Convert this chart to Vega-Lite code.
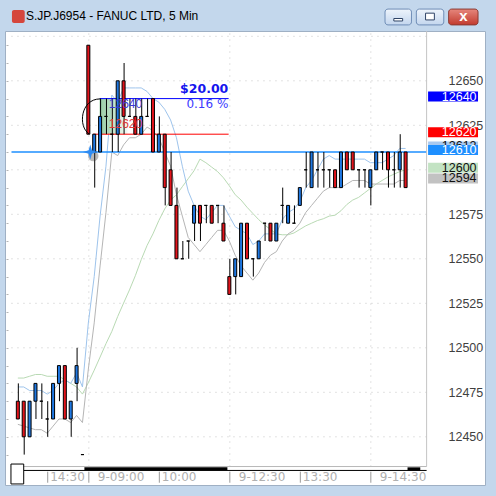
{
  "$schema": "https://vega.github.io/schema/vega-lite/v6.json",
  "width": 480,
  "height": 454,
  "autosize": {"type": "none"},
  "padding": {"left": 5, "top": 31, "right": 11, "bottom": 11},
  "background": "#c3d7ec",
  "view": {"fill": "#ffffff", "stroke": "#9fb0c4", "strokeWidth": 1},
  "title": {
    "text": "S.JP.J6954 - FANUC LTD, 5 Min",
    "anchor": "start",
    "frame": "group",
    "font": "Liberation Sans",
    "fontSize": 12,
    "fontWeight": "normal",
    "color": "#000000",
    "baseline": "middle",
    "dx": 21,
    "dy": 19,
    "offset": 0
  },
  "resolve": {"axis": {"y": "independent"}},
  "datasets": {
    "bars": [
      {"bar": 0, "time": "14:05", "open": 12470, "high": 12480, "low": 12460, "close": 12460, "mah": 12478, "mal": 12457, "ma20": 12483},
      {"bar": 1, "time": "14:10", "open": 12470, "high": 12470, "low": 12440, "close": 12450, "mah": 12478, "mal": 12456, "ma20": 12483},
      {"bar": 2, "time": "14:15", "open": 12450, "high": 12470, "low": 12450, "close": 12470, "mah": 12476, "mal": 12455, "ma20": 12484},
      {"bar": 3, "time": "14:20", "open": 12470, "high": 12480, "low": 12460, "close": 12480, "mah": 12476, "mal": 12454, "ma20": 12485},
      {"bar": 4, "time": "14:25", "open": 12470, "high": 12480, "low": 12460, "close": 12470, "mah": 12476, "mal": 12454, "ma20": 12485},
      {"bar": 5, "time": "14:30", "open": 12460, "high": 12470, "low": 12450, "close": 12460, "mah": 12474, "mal": 12452, "ma20": 12484},
      {"bar": 6, "time": "14:35", "open": 12460, "high": 12480, "low": 12460, "close": 12480, "mah": 12476, "mal": 12456, "ma20": 12484},
      {"bar": 7, "time": "14:40", "open": 12480, "high": 12490, "low": 12470, "close": 12490, "mah": 12480, "mal": 12460, "ma20": 12484},
      {"bar": 8, "time": "14:45", "open": 12490, "high": 12490, "low": 12460, "close": 12460, "mah": 12482, "mal": 12460, "ma20": 12482},
      {"bar": 9, "time": "14:50", "open": 12460, "high": 12470, "low": 12450, "close": 12470, "mah": 12480, "mal": 12458, "ma20": 12480},
      {"bar": 10, "time": "14:55", "open": 12480, "high": 12500, "low": 12470, "close": 12490, "mah": 12486, "mal": 12462, "ma20": 12478},
      {"bar": 11, "time": "15:00", "open": 12440, "high": 12440, "low": 12440, "close": 12440, "mah": 12478, "mal": 12458, "ma20": 12474},
      {"bar": 12, "time": "09:00", "open": 12670, "high": 12670, "low": 12620, "close": 12620, "mah": 12514, "mal": 12488, "ma20": 12480.4},
      {"bar": 13, "time": "09:05", "open": 12610, "high": 12620, "low": 12590, "close": 12620, "mah": 12540, "mal": 12514, "ma20": 12487.4},
      {"bar": 14, "time": "09:10", "open": 12610, "high": 12640, "low": 12610, "close": 12630, "mah": 12574, "mal": 12546, "ma20": 12494.8},
      {"bar": 15, "time": "09:15", "open": 12630, "high": 12640, "low": 12620, "close": 12630, "mah": 12602, "mal": 12576, "ma20": 12502.3},
      {"bar": 16, "time": "09:20", "open": 12620, "high": 12640, "low": 12610, "close": 12620, "mah": 12642, "mal": 12610, "ma20": 12509.2},
      {"bar": 17, "time": "09:25", "open": 12620, "high": 12650, "low": 12610, "close": 12650, "mah": 12638, "mal": 12608, "ma20": 12517.6},
      {"bar": 18, "time": "09:30", "open": 12650, "high": 12660, "low": 12620, "close": 12630, "mah": 12646, "mal": 12614, "ma20": 12525.1},
      {"bar": 19, "time": "09:35", "open": 12630, "high": 12640, "low": 12630, "close": 12630, "mah": 12646, "mal": 12618, "ma20": 12532.5},
      {"bar": 20, "time": "09:40", "open": 12630, "high": 12640, "low": 12620, "close": 12620, "mah": 12646, "mal": 12618, "ma20": 12540.5},
      {"bar": 21, "time": "09:45", "open": 12620, "high": 12640, "low": 12620, "close": 12630, "mah": 12646, "mal": 12620, "ma20": 12549.5},
      {"bar": 22, "time": "09:50", "open": 12630, "high": 12640, "low": 12630, "close": 12630, "mah": 12644, "mal": 12624, "ma20": 12557.5},
      {"bar": 23, "time": "09:55", "open": 12640, "high": 12640, "low": 12610, "close": 12610, "mah": 12640, "mal": 12622, "ma20": 12564},
      {"bar": 24, "time": "10:00", "open": 12610, "high": 12630, "low": 12610, "close": 12620, "mah": 12638, "mal": 12618, "ma20": 12571.5},
      {"bar": 25, "time": "10:05", "open": 12620, "high": 12620, "low": 12580, "close": 12590, "mah": 12634, "mal": 12610, "ma20": 12578},
      {"bar": 26, "time": "10:10", "open": 12600, "high": 12610, "low": 12580, "close": 12580, "mah": 12628, "mal": 12602, "ma20": 12583},
      {"bar": 27, "time": "10:15", "open": 12580, "high": 12590, "low": 12550, "close": 12550, "mah": 12618, "mal": 12586, "ma20": 12586},
      {"bar": 28, "time": "10:20", "open": 12550, "high": 12560, "low": 12550, "close": 12550, "mah": 12602, "mal": 12574, "ma20": 12590.5},
      {"bar": 29, "time": "10:25", "open": 12560, "high": 12560, "low": 12550, "close": 12560, "mah": 12588, "mal": 12562, "ma20": 12595},
      {"bar": 30, "time": "10:30", "open": 12570, "high": 12580, "low": 12560, "close": 12580, "mah": 12580, "mal": 12558, "ma20": 12599.5},
      {"bar": 31, "time": "10:35", "open": 12580, "high": 12580, "low": 12560, "close": 12570, "mah": 12574, "mal": 12554, "ma20": 12606},
      {"bar": 32, "time": "10:40", "open": 12580, "high": 12580, "low": 12570, "close": 12580, "mah": 12572, "mal": 12558, "ma20": 12604},
      {"bar": 33, "time": "10:45", "open": 12580, "high": 12580, "low": 12570, "close": 12570, "mah": 12576, "mal": 12562, "ma20": 12601.5},
      {"bar": 34, "time": "10:50", "open": 12580, "high": 12580, "low": 12570, "close": 12580, "mah": 12580, "mal": 12566, "ma20": 12599},
      {"bar": 35, "time": "10:55", "open": 12570, "high": 12580, "low": 12560, "close": 12560, "mah": 12580, "mal": 12566, "ma20": 12595.5},
      {"bar": 36, "time": "12:30", "open": 12540, "high": 12550, "low": 12530, "close": 12530, "mah": 12574, "mal": 12560, "ma20": 12591},
      {"bar": 37, "time": "12:35", "open": 12540, "high": 12550, "low": 12530, "close": 12550, "mah": 12568, "mal": 12552, "ma20": 12586},
      {"bar": 38, "time": "12:40", "open": 12540, "high": 12570, "low": 12540, "close": 12570, "mah": 12566, "mal": 12546, "ma20": 12583},
      {"bar": 39, "time": "12:45", "open": 12570, "high": 12570, "low": 12550, "close": 12550, "mah": 12564, "mal": 12542, "ma20": 12579},
      {"bar": 40, "time": "12:50", "open": 12550, "high": 12550, "low": 12540, "close": 12550, "mah": 12558, "mal": 12538, "ma20": 12575.5},
      {"bar": 41, "time": "12:55", "open": 12550, "high": 12560, "low": 12550, "close": 12560, "mah": 12560, "mal": 12542, "ma20": 12572},
      {"bar": 42, "time": "13:00", "open": 12570, "high": 12570, "low": 12560, "close": 12570, "mah": 12564, "mal": 12548, "ma20": 12569},
      {"bar": 43, "time": "13:05", "open": 12570, "high": 12570, "low": 12560, "close": 12560, "mah": 12564, "mal": 12552, "ma20": 12566.5},
      {"bar": 44, "time": "13:10", "open": 12560, "high": 12570, "low": 12560, "close": 12570, "mah": 12564, "mal": 12554, "ma20": 12564},
      {"bar": 45, "time": "13:15", "open": 12580, "high": 12590, "low": 12570, "close": 12580, "mah": 12572, "mal": 12560, "ma20": 12563.5},
      {"bar": 46, "time": "13:20", "open": 12570, "high": 12580, "low": 12570, "close": 12580, "mah": 12576, "mal": 12564, "ma20": 12563.5},
      {"bar": 47, "time": "13:25", "open": 12570, "high": 12580, "low": 12570, "close": 12570, "mah": 12578, "mal": 12566, "ma20": 12564.5},
      {"bar": 48, "time": "13:30", "open": 12580, "high": 12590, "low": 12580, "close": 12590, "mah": 12582, "mal": 12570, "ma20": 12566.5},
      {"bar": 49, "time": "13:35", "open": 12600, "high": 12610, "low": 12590, "close": 12600, "mah": 12590, "mal": 12576, "ma20": 12568.5},
      {"bar": 50, "time": "13:40", "open": 12590, "high": 12610, "low": 12590, "close": 12610, "mah": 12594, "mal": 12580, "ma20": 12570},
      {"bar": 51, "time": "13:45", "open": 12600, "high": 12610, "low": 12590, "close": 12600, "mah": 12600, "mal": 12584, "ma20": 12571.5},
      {"bar": 52, "time": "13:50", "open": 12600, "high": 12610, "low": 12590, "close": 12600, "mah": 12606, "mal": 12588, "ma20": 12572.5},
      {"bar": 53, "time": "13:55", "open": 12600, "high": 12600, "low": 12590, "close": 12600, "mah": 12608, "mal": 12590, "ma20": 12574},
      {"bar": 54, "time": "14:00", "open": 12600, "high": 12600, "low": 12590, "close": 12590, "mah": 12606, "mal": 12590, "ma20": 12574.5},
      {"bar": 55, "time": "14:05", "open": 12590, "high": 12610, "low": 12590, "close": 12610, "mah": 12606, "mal": 12590, "ma20": 12577},
      {"bar": 56, "time": "14:10", "open": 12610, "high": 12610, "low": 12600, "close": 12600, "mah": 12606, "mal": 12592, "ma20": 12580.5},
      {"bar": 57, "time": "14:15", "open": 12610, "high": 12610, "low": 12600, "close": 12600, "mah": 12606, "mal": 12594, "ma20": 12583},
      {"bar": 58, "time": "14:20", "open": 12600, "high": 12600, "low": 12590, "close": 12600, "mah": 12606, "mal": 12594, "ma20": 12584.5},
      {"bar": 59, "time": "14:25", "open": 12600, "high": 12600, "low": 12590, "close": 12600, "mah": 12606, "mal": 12594, "ma20": 12587},
      {"bar": 60, "time": "14:30", "open": 12590, "high": 12600, "low": 12580, "close": 12600, "mah": 12604, "mal": 12592, "ma20": 12589.5},
      {"bar": 61, "time": "14:35", "open": 12600, "high": 12610, "low": 12600, "close": 12610, "mah": 12604, "mal": 12592, "ma20": 12592},
      {"bar": 62, "time": "14:40", "open": 12610, "high": 12610, "low": 12600, "close": 12610, "mah": 12604, "mal": 12592, "ma20": 12594},
      {"bar": 63, "time": "14:45", "open": 12610, "high": 12610, "low": 12590, "close": 12600, "mah": 12606, "mal": 12592, "ma20": 12596},
      {"bar": 64, "time": "14:50", "open": 12600, "high": 12610, "low": 12590, "close": 12600, "mah": 12608, "mal": 12592, "ma20": 12597.5},
      {"bar": 65, "time": "14:55", "open": 12600, "high": 12620, "low": 12590, "close": 12610, "mah": 12612, "mal": 12594, "ma20": 12599},
      {"bar": 66, "time": "15:00", "open": 12610, "high": 12610, "low": 12590, "close": 12590, "mah": 12612, "mal": 12594, "ma20": 12600}
    ],
    "grid": [
      {"level": 12450}, {"level": 12475}, {"level": 12500}, {"level": 12525}, {"level": 12550},
      {"level": 12575}, {"level": 12600}, {"level": 12625}, {"level": 12650}, {"level": 12675}
    ],
    "timeTicks": [
      {"bar": 5, "label": "14:30"},
      {"bar": 12, "label": "9-09:00"},
      {"bar": 24, "label": "10:00"},
      {"bar": 36, "label": "9-12:30"},
      {"bar": 48, "label": "13:30"},
      {"bar": 60, "label": "9-14:30"}
    ],
    "levels": [
      {"name": "upper", "price": 12640},
      {"name": "lower", "price": 12620},
      {"name": "alert", "price": 12610}
    ],
    "tool": [
      {"change": 20, "percent": "0.16 %"}
    ]
  },
  "layer": [
    {
      "data": {"name": "grid"},
      "mark": {"type": "rule", "stroke": "#c6c6c6", "strokeDash": [1, 5]},
      "encoding": {
        "x": {"datum": -1.08, "type": "quantitative", "scale": {"domain": [-1.33333, 78.66667], "nice": false, "zero": false}, "axis": null},
        "x2": {"datum": 69.58},
        "y": {
          "field": "level", "type": "quantitative",
          "scale": {"domain": [12422.92, 12677.98], "nice": false, "zero": false},
          "axis": {
            "orient": "right", "offset": -54, "format": "d",
            "values": [12450, 12475, 12500, 12525, 12550, 12575, 12625, 12650],
            "domain": false, "ticks": false, "grid": false, "title": null,
            "labelAlign": "left", "labelPadding": 17, "labelBaseline": "middle",
            "labelFont": "Liberation Sans", "labelFontSize": 12.5, "labelColor": "#3f3f3f",
            "labelOverlap": false
          }
        }
      }
    },
    {
      "data": {"name": "timeTicks"},
      "transform": [{"filter": "length(datum.label) > 5"}],
      "mark": {"type": "rule", "stroke": "#c6c6c6", "strokeDash": [1, 5], "xOffset": 0.5},
      "encoding": {
        "x": {"field": "bar", "type": "quantitative", "axis": null},
        "y": {"datum": 12433.3, "type": "quantitative", "axis": null},
        "y2": {"datum": 12677}
      }
    },
    {
      "data": {"name": "bars"},
      "mark": {"type": "line", "color": "#b9dab4", "strokeWidth": 1},
      "encoding": {
        "x": {"field": "bar", "type": "quantitative", "axis": null},
        "y": {
          "field": "ma20", "type": "quantitative",
          "axis": {
            "orient": "left", "offset": -3,
            "values": [12440, 12450, 12460, 12470, 12480, 12490, 12500, 12510, 12520, 12530, 12540, 12550, 12560, 12570, 12580, 12590, 12600, 12610, 12620, 12630, 12640, 12650, 12660, 12670],
            "labels": false, "domain": false, "grid": false, "title": null,
            "ticks": true, "tickSize": 2, "tickColor": "#b4b4b4"
          }
        }
      }
    },
    {
      "data": {"name": "bars"},
      "mark": {"type": "line", "color": "#b5b5b5", "strokeWidth": 1},
      "encoding": {
        "x": {"field": "bar", "type": "quantitative", "axis": null},
        "y": {"field": "mal", "type": "quantitative", "axis": null}
      }
    },
    {
      "data": {"name": "bars"},
      "mark": {"type": "line", "color": "#9ec4ec", "strokeWidth": 1},
      "encoding": {
        "x": {"field": "bar", "type": "quantitative", "axis": null},
        "y": {"field": "mah", "type": "quantitative", "axis": null}
      }
    },
    {
      "data": {"values": [{}]},
      "mark": {
        "type": "rect", "opacity": 0.85,
        "fill": {
          "gradient": "linear", "x1": 0, "y1": 0, "x2": 1, "y2": 0,
          "stops": [
            {"offset": 0, "color": "#86c495"},
            {"offset": 0.55, "color": "#bde0c4"},
            {"offset": 1, "color": "#f4faf5"}
          ]
        }
      },
      "encoding": {
        "x": {"datum": 13.92, "type": "quantitative", "axis": null},
        "x2": {"datum": 18.7},
        "y": {"datum": 12640, "type": "quantitative", "axis": null},
        "y2": {"datum": 12620}
      }
    },
    {
      "data": {"name": "levels"},
      "transform": [{"filter": "datum.name == 'upper'"}],
      "mark": {"type": "rule", "stroke": "#0000ff", "strokeWidth": 1},
      "encoding": {
        "x": {"datum": 13.95, "type": "quantitative", "axis": null},
        "x2": {"datum": 35.88},
        "y": {"field": "price", "type": "quantitative", "axis": null}
      }
    },
    {
      "data": {"name": "levels"},
      "transform": [{"filter": "datum.name == 'lower'"}],
      "mark": {"type": "rule", "stroke": "#ff0000", "strokeWidth": 1},
      "encoding": {
        "x": {"datum": 12.83, "type": "quantitative", "axis": null},
        "x2": {"datum": 35.88},
        "y": {"field": "price", "type": "quantitative", "axis": null}
      }
    },
    {
      "data": {"name": "levels"},
      "transform": [{"filter": "datum.name == 'alert'"}],
      "mark": {"type": "rule", "stroke": "#1e8fff", "strokeWidth": 1.3},
      "encoding": {
        "x": {"datum": -1.08, "type": "quantitative", "axis": null},
        "x2": {"datum": 69.58},
        "y": {"field": "price", "type": "quantitative", "axis": null}
      }
    },
    {
      "data": {"name": "bars"},
      "mark": {"type": "rule", "color": "#000000", "strokeWidth": 1, "xOffset": 0.5},
      "encoding": {
        "x": {"field": "bar", "type": "quantitative", "axis": null},
        "y": {"field": "low", "type": "quantitative", "axis": null},
        "y2": {"field": "high"}
      }
    },
    {
      "data": {"name": "bars"},
      "mark": {"type": "bar", "width": 3, "stroke": "#000000", "strokeWidth": 1},
      "encoding": {
        "x": {"field": "bar", "type": "quantitative", "scale": {"domain": [-1.33333, 78.66667], "nice": false, "zero": false}, "axis": null},
        "y": {"field": "open", "type": "quantitative", "scale": {"domain": [12422.92, 12677.98], "nice": false, "zero": false}, "axis": null},
        "y2": {"field": "close"},
        "fill": {"condition": {"test": "datum.close > datum.open", "value": "#1f78e2"}, "value": "#e3141c"}
      }
    },
    {
      "data": {"name": "levels"},
      "transform": [{"filter": "datum.name == 'upper'"}],
      "mark": {"type": "text", "font": "Liberation Sans", "fontSize": 12, "align": "center", "baseline": "middle", "dy": 5, "fill": "#3a3ad6"},
      "encoding": {
        "x": {"datum": 18.33, "type": "quantitative", "axis": null},
        "y": {"field": "price", "type": "quantitative", "axis": null},
        "text": {"field": "price", "type": "quantitative", "format": "d"}
      }
    },
    {
      "data": {"name": "levels"},
      "transform": [{"filter": "datum.name == 'lower'"}],
      "mark": {"type": "text", "font": "Liberation Sans", "fontSize": 12, "align": "center", "baseline": "middle", "dy": -10, "fill": "#e23b3b"},
      "encoding": {
        "x": {"datum": 18.33, "type": "quantitative", "axis": null},
        "y": {"field": "price", "type": "quantitative", "axis": null},
        "text": {"field": "price", "type": "quantitative", "format": "d"}
      }
    },
    {
      "data": {"name": "tool"},
      "mark": {"type": "text", "font": "DejaVu Sans", "fontSize": 12.5, "fontWeight": "bold", "align": "right", "baseline": "middle", "dy": -9.5, "fill": "#1515ee"},
      "encoding": {
        "x": {"datum": 35.83, "type": "quantitative", "axis": null},
        "y": {"datum": 12640, "type": "quantitative", "axis": null},
        "text": {"field": "change", "type": "quantitative", "format": "$.2f"}
      }
    },
    {
      "data": {"name": "tool"},
      "mark": {"type": "text", "font": "DejaVu Sans", "fontSize": 12, "align": "right", "baseline": "middle", "dy": 5.6, "fill": "#3b3bff"},
      "encoding": {
        "x": {"datum": 35.83, "type": "quantitative", "axis": null},
        "y": {"datum": 12640, "type": "quantitative", "axis": null},
        "text": {"field": "percent"}
      }
    },
    {
      "data": {"values": [{}]},
      "mark": {"type": "point", "shape": "M0.23,-1 C-0.9,-1 -1.05,0.6 -0.4,1", "size": 1225, "filled": false, "stroke": "#000000", "strokeWidth": 1, "opacity": 1},
      "encoding": {
        "x": {"datum": 13.33, "type": "quantitative", "axis": null},
        "y": {"datum": 12630, "type": "quantitative", "axis": null}
      }
    },
    {
      "data": {"name": "levels"},
      "transform": [{"filter": "datum.name == 'alert'"}],
      "mark": {"type": "point", "shape": "circle", "size": 110, "filled": true, "fill": "#3a3a3a", "opacity": 0.35, "xOffset": 3, "yOffset": 4, "strokeWidth": 0},
      "encoding": {
        "x": {"datum": 12.33, "type": "quantitative", "axis": null},
        "y": {"field": "price", "type": "quantitative", "axis": null}
      }
    },
    {
      "data": {"name": "levels"},
      "transform": [{"filter": "datum.name == 'alert'"}],
      "mark": {"type": "point", "shape": "M0,-1 L0.22,-0.22 L1,0 L0.22,0.22 L0,1 L-0.22,0.22 L-1,0 L-0.22,-0.22 Z", "size": 220, "filled": true, "fill": "#2f8cf2", "opacity": 1, "strokeWidth": 0},
      "encoding": {
        "x": {"datum": 12.33, "type": "quantitative", "axis": null},
        "y": {"field": "price", "type": "quantitative", "axis": null}
      }
    },
    {
      "data": {"name": "bars"},
      "transform": [
        {"filter": "datum.bar == 66"},
        {"fold": ["mah", "ma20", "mal"], "as": ["series", "value"]}
      ],
      "mark": {"type": "rect", "yOffset": -7, "y2Offset": 3},
      "encoding": {
        "x": {"datum": 69.83, "type": "quantitative", "axis": null},
        "x2": {"datum": 78.33},
        "y": {"field": "value", "type": "quantitative", "axis": null},
        "y2": {"field": "value"},
        "fill": {
          "condition": [
            {"test": "datum.series == 'mah'", "value": "#a9c9ef"},
            {"test": "datum.series == 'ma20'", "value": "#c3e3c3"}
          ],
          "value": "#c2c2c2"
        }
      }
    },
    {
      "data": {"name": "bars"},
      "transform": [
        {"filter": "datum.bar == 66"},
        {"fold": ["mah", "ma20", "mal"], "as": ["series", "value"]}
      ],
      "mark": {"type": "text", "font": "Liberation Sans", "fontSize": 12.5, "align": "right", "baseline": "middle", "dy": -2, "fill": "#111111"},
      "encoding": {
        "x": {"datum": 78.08, "type": "quantitative", "axis": null},
        "y": {"field": "value", "type": "quantitative", "axis": null},
        "text": {"field": "value", "type": "quantitative", "format": ".0f"}
      }
    },
    {
      "data": {"name": "levels"},
      "mark": {"type": "rect", "yOffset": -7, "y2Offset": 3},
      "encoding": {
        "x": {"datum": 69.83, "type": "quantitative", "axis": null},
        "x2": {"datum": 78.33},
        "y": {"field": "price", "type": "quantitative", "axis": null},
        "y2": {"field": "price"},
        "fill": {
          "condition": [
            {"test": "datum.name == 'upper'", "value": "#0000ff"},
            {"test": "datum.name == 'lower'", "value": "#ff0000"}
          ],
          "value": "#1e8fff"
        }
      }
    },
    {
      "data": {"name": "levels"},
      "mark": {"type": "text", "font": "Liberation Sans", "fontSize": 12.5, "align": "right", "baseline": "middle", "dy": -2, "fill": "#ffffff"},
      "encoding": {
        "x": {"datum": 78.08, "type": "quantitative", "axis": null},
        "y": {"field": "price", "type": "quantitative", "axis": null},
        "text": {"field": "price", "type": "quantitative", "format": "d"}
      }
    },
    {
      "data": {"values": [{}]},
      "mark": {"type": "rule", "stroke": "#c4c4c4"},
      "encoding": {
        "x": {"datum": 69.58, "type": "quantitative", "axis": null},
        "y": {"datum": 12433.3, "type": "quantitative", "axis": null},
        "y2": {"datum": 12677.98}
      }
    },
    {
      "data": {"values": [{}]},
      "mark": {"type": "rule", "stroke": "#b8b8b8"},
      "encoding": {
        "x": {"datum": -1.2, "type": "quantitative", "axis": null},
        "x2": {"datum": 69.58},
        "y": {"datum": 12433.3, "type": "quantitative", "axis": null}
      }
    },
    {
      "data": {"values": [{}]},
      "mark": {"type": "rule", "stroke": "#000000", "strokeWidth": 1},
      "encoding": {
        "x": {"datum": 1.0, "type": "quantitative", "axis": null},
        "x2": {"datum": 69.58},
        "y": {"datum": 12431.1, "type": "quantitative", "axis": null}
      }
    },
    {
      "data": {"values": [{}]},
      "mark": {"type": "rule", "stroke": "#000000", "strokeWidth": 3},
      "encoding": {
        "x": {"datum": 11.33, "type": "quantitative", "axis": null},
        "x2": {"datum": 35.67},
        "y": {"datum": 12432.0, "type": "quantitative", "axis": null}
      }
    },
    {
      "data": {"values": [{}]},
      "mark": {"type": "rule", "stroke": "#000000", "strokeWidth": 3},
      "encoding": {
        "x": {"datum": 66.33, "type": "quantitative", "axis": null},
        "x2": {"datum": 68.5},
        "y": {"datum": 12432.0, "type": "quantitative", "axis": null}
      }
    },
    {
      "data": {"values": [{}]},
      "mark": {"type": "rect", "fill": "#ffffff", "stroke": "#000000", "strokeWidth": 1},
      "encoding": {
        "x": {"datum": -1.17, "type": "quantitative", "axis": null},
        "x2": {"datum": 1.0},
        "y": {"datum": 12434.7, "type": "quantitative", "axis": null},
        "y2": {"datum": 12423.5}
      }
    },
    {
      "data": {"name": "timeTicks"},
      "mark": {"type": "rule", "stroke": "#9a9a9a", "xOffset": 0.5},
      "encoding": {
        "x": {"field": "bar", "type": "quantitative", "axis": null},
        "y": {"datum": 12430.4, "type": "quantitative", "axis": null},
        "y2": {"datum": 12424.2}
      }
    },
    {
      "data": {"name": "timeTicks"},
      "transform": [{"filter": "length(datum.label) <= 5"}],
      "mark": {"type": "text", "font": "DejaVu Sans", "fontSize": 12, "align": "left", "baseline": "middle", "dx": 3, "fill": "#b0b0b0"},
      "encoding": {
        "x": {"field": "bar", "type": "quantitative", "axis": null},
        "y": {"datum": 12427.6, "type": "quantitative", "axis": null},
        "text": {"field": "label"}
      }
    },
    {
      "data": {"name": "timeTicks"},
      "transform": [{"filter": "length(datum.label) > 5"}],
      "mark": {"type": "text", "font": "DejaVu Sans", "fontSize": 12, "align": "left", "baseline": "middle", "dx": 9.5, "fill": "#b0b0b0"},
      "encoding": {
        "x": {"field": "bar", "type": "quantitative", "axis": null},
        "y": {"datum": 12427.6, "type": "quantitative", "axis": null},
        "text": {"field": "label"}
      }
    },
    {
      "data": {"values": [{}]},
      "mark": {"type": "rect", "fill": "#d5463c", "cornerRadius": 2},
      "encoding": {
        "x": {"datum": -1.0, "type": "quantitative", "axis": null},
        "x2": {"datum": 1.17},
        "y": {"datum": 12689.8, "type": "quantitative", "axis": null},
        "y2": {"datum": 12682.5}
      }
    },
    {
      "data": {"values": [{}]},
      "mark": {
        "type": "rect", "stroke": "#6f8db6", "strokeWidth": 1, "cornerRadius": 3,
        "fill": {"gradient": "linear", "x1": 0, "y1": 0, "x2": 0, "y2": 1, "stops": [{"offset": 0, "color": "#eef4fb"}, {"offset": 1, "color": "#c3d6ee"}]}
      },
      "encoding": {
        "x": {"datum": 62.5, "type": "quantitative", "axis": null},
        "x2": {"datum": 67.0},
        "y": {"datum": 12690.3, "type": "quantitative", "axis": null},
        "y2": {"datum": 12681.4}
      }
    },
    {
      "data": {"values": [{}]},
      "mark": {
        "type": "rect", "stroke": "#6f8db6", "strokeWidth": 1, "cornerRadius": 3,
        "fill": {"gradient": "linear", "x1": 0, "y1": 0, "x2": 0, "y2": 1, "stops": [{"offset": 0, "color": "#eef4fb"}, {"offset": 1, "color": "#c3d6ee"}]}
      },
      "encoding": {
        "x": {"datum": 67.83, "type": "quantitative", "axis": null},
        "x2": {"datum": 72.5},
        "y": {"datum": 12690.3, "type": "quantitative", "axis": null},
        "y2": {"datum": 12681.4}
      }
    },
    {
      "data": {"values": [{}]},
      "mark": {
        "type": "rect", "stroke": "#8b3a33", "strokeWidth": 1, "cornerRadius": 3,
        "fill": {"gradient": "linear", "x1": 0, "y1": 0, "x2": 0, "y2": 1, "stops": [{"offset": 0, "color": "#e6877d"}, {"offset": 1, "color": "#c23a2e"}]}
      },
      "encoding": {
        "x": {"datum": 73.33, "type": "quantitative", "axis": null},
        "x2": {"datum": 78.33},
        "y": {"datum": 12690.3, "type": "quantitative", "axis": null},
        "y2": {"datum": 12681.4}
      }
    },
    {
      "data": {"values": [{}]},
      "mark": {"type": "rect", "fill": "#ffffff", "stroke": "#2f4466", "strokeWidth": 1},
      "encoding": {
        "x": {"datum": 64.0, "type": "quantitative", "axis": null},
        "x2": {"datum": 65.5},
        "y": {"datum": 12685.0, "type": "quantitative", "axis": null},
        "y2": {"datum": 12683.6}
      }
    },
    {
      "data": {"values": [{}]},
      "mark": {"type": "rect", "fill": "#ffffff", "stroke": "#2f4466", "strokeWidth": 1},
      "encoding": {
        "x": {"datum": 69.4, "type": "quantitative", "axis": null},
        "x2": {"datum": 70.9},
        "y": {"datum": 12688.0, "type": "quantitative", "axis": null},
        "y2": {"datum": 12684.2}
      }
    },
    {
      "data": {"values": [{}]},
      "mark": {"type": "text", "text": "x", "font": "Liberation Sans", "fontSize": 15, "fontWeight": "bold", "align": "center", "baseline": "middle", "fill": "#ffffff"},
      "encoding": {
        "x": {"datum": 75.83, "type": "quantitative", "axis": null},
        "y": {"datum": 12686.2, "type": "quantitative", "axis": null}
      }
    }
  ]
}
